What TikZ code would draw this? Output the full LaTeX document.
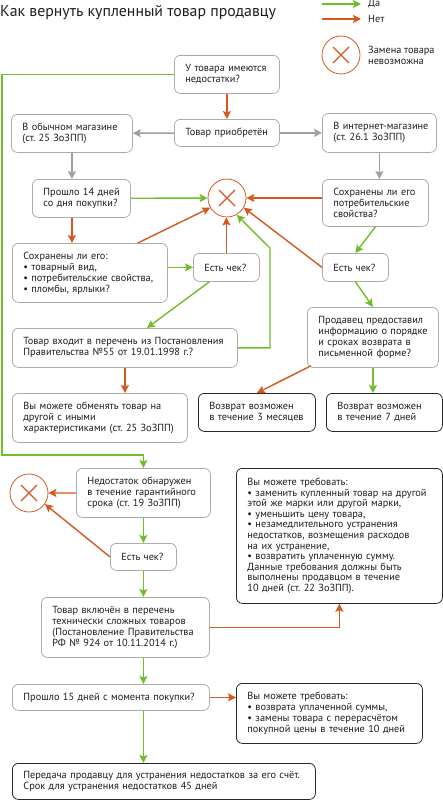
\documentclass[tikz,border=0pt]{standalone}
\usepackage{fontspec}
\setmainfont{PT Sans}
\frenchspacing
\usetikzlibrary{arrows.meta, positioning, calc}
\definecolor{yesgreen}{RGB}{112,190,40}
\definecolor{nored}{RGB}{214,88,30}
\definecolor{flowgray}{RGB}{160,160,160}
\definecolor{boxgray}{RGB}{172,172,172}
\definecolor{darkline}{RGB}{40,40,40}
\definecolor{inkcol}{RGB}{30,30,30}
\tikzstyle{box} = [rectangle, rounded corners=6pt, draw=boxgray, line width=0.8pt, fill=white, text=inkcol, inner xsep=4pt, inner ysep=0pt, align=left, anchor=north west, font=\fontsize{10.3}{11}\selectfont, execute at begin node={\leftskip=7pt\rightskip=-40pt plus 1fil}]
\tikzstyle{result} = [box, draw=darkline]
\tikzstyle{nogo} = [circle, draw=nored, line width=0.8pt, minimum size=38pt, inner sep=0pt, path picture={\draw[nored, line width=1.3pt] ([shift={(-8pt,-8pt)}]path picture bounding box.center) -- ([shift={(8pt,8pt)}]path picture bounding box.center) ([shift={(-8pt,8pt)}]path picture bounding box.center) -- ([shift={(8pt,-8pt)}]path picture bounding box.center);}]
\tikzstyle{yesarrow} = [line width=1.4pt, draw=yesgreen, -{Stealth[length=8pt, width=8pt, inset=1.5pt]}]
\tikzstyle{noarrow} = [yesarrow, draw=nored]
\tikzstyle{grayarrow} = [yesarrow, draw=flowgray]
\tikzstyle{legend} = [anchor=west, inner sep=0pt, align=left, text=inkcol, font=\fontsize{10.3}{11}\selectfont]

\begin{document}
\begin{tikzpicture}[x=1pt, y=-1pt]
\useasboundingbox (0,0) rectangle (443,800);

% Title and legend
\node (title) [anchor=west, inner sep=0pt, text=inkcol, font=\fontsize{15.8}{17}\selectfont] at (0,13) {Как вернуть купленный товар продавцу};
\node (yeslbl) [legend] at (368,4) {Да};
\node (nolbl) [legend] at (368,19) {Нет};
\coordinate (yesfrom) at (322,4);
\coordinate (nofrom) at (322,19);
\draw[yesarrow, shorten >=7pt] (yesfrom) -- (yeslbl.west);
\draw[noarrow, shorten >=7pt] (nofrom) -- (nolbl.west);
\node (legstop) [nogo] at (341,55) {};
\node (leglbl) [legend] at (368,55.5) {Замена товара\\невозможна};

% Upper part: return without defects
\node (q0) [box, text width=97pt, minimum height=38pt] at (174,55) {У товара имеются\\недостатки?};
\node (buy) [box, text width=97pt, minimum height=27pt] at (174,119) {Товар приобретён};
\node (shop) [box, text width=113pt, minimum height=38pt] at (11,114) {В обычном магазине\\(ст. 25 ЗоЗПП)};
\node (web) [box, text width=106pt, minimum height=39pt] at (322,113) {В интернет-магазине\\(ст. 26.1 ЗоЗПП)};
\node (d14) [box, text width=90pt, minimum height=38pt] at (32,179) {Прошло 14 дней\\со дня покупки?};
\node (propsR) [box, text width=98pt, minimum height=47pt] at (322,179) {Сохранены ли его\\потребительские\\свойства?};
\node (stop) [nogo] at (227,198) {};
\node (keptL) [box, text width=147pt, minimum height=59pt] at (12,243) {Сохранены ли его:\\• товарный вид,\\• потребительские свойства,\\• пломбы, ярлыки?};
\node (chkM) [box, text width=58pt, minimum height=28pt] at (193,253) {Есть чек?};
\node (chkR) [box, text width=58pt, minimum height=28pt] at (322,253) {Есть чек?};
\node (seller) [box, text width=123pt, minimum height=60pt] at (307,307) {Продавец предоставил\\информацию о порядке\\и сроках возврата в\\письменной форме?};
\node (list55) [box, text width=217pt, minimum height=39pt] at (12,328) {Товар входит в перечень из Постановления\\Правительства №55 от 19.01.1998 г.?};
\node (swap) [box, text width=167pt, minimum height=49pt] at (12,393) {Вы можете обменять товар на\\другой с иными\\характеристиками (ст. 25 ЗоЗПП)};
\node (m3) [result, text width=109pt, minimum height=38pt] at (198,393) {Возврат возможен\\в течение 3 месяцев};
\node (d7) [result, text width=108pt, minimum height=38pt] at (326,393) {Возврат возможен\\в течение 7 дней};

% Lower part: defects found
\node (warranty) [box, text width=126pt, minimum height=49pt] at (76,468) {Недостаток обнаружен\\в течение гарантийного\\срока (ст. 19 ЗоЗПП)};
\node (stop2) [nogo] at (29,493) {};
\node (claims) [result, text width=198pt, minimum height=135pt, font=\fontsize{10.3}{10.6}\selectfont] at (236,468) {Вы можете требовать:\\• заменить купленный товар на другой\\этой же марки или другой марки,\\• уменьшить цену товара,\\• незамедлительного устранения\\недостатков, возмещения расходов\\на их устранение,\\• возвратить уплаченную сумму.\\Данные требования должны быть\\выполнены продавцом в течение\\10 дней (ст. 22 ЗоЗПП).};
\node (chkB) [box, text width=58pt, minimum height=27pt] at (110,543) {Есть чек?};
\node (tech) [box, text width=160pt, minimum height=60pt] at (41,597) {Товар включён в перечень\\технически сложных товаров\\(Постановление Правительства\\РФ № 924 от 10.11.2014 г.)};
\node (d15) [box, text width=189pt, minimum height=26pt] at (12,684) {Прошло 15 дней с момента покупки?};
\node (claims2) [result, text width=178pt, minimum height=60pt] at (236,683) {Вы можете требовать:\\• возврата уплаченной суммы,\\• замены товара с перерасчётом\\покупной цены в течение 10 дней};
\node (transfer) [result, text width=295pt, minimum height=36pt] at (12,763) {Передача продавцу для устранения недостатков за его счёт.\\Срок для устранения недостатков 45 дней};

% Arrows, upper part
\draw[noarrow] (q0) -- (buy);
\draw[grayarrow] (buy) -- (shop);
\draw[grayarrow] (buy) -- (web);
\draw[grayarrow] (shop.south) -- (shop.south |- d14.north);
\draw[grayarrow] (web.south) -- (web.south |- propsR.north);
\draw[yesarrow] (d14) -- (stop);
\draw[noarrow] (stop.east -| propsR.west) -- (stop.east);
\draw[noarrow] (d14.south -| shop.south) -- (shop.south |- keptL.north);
\draw[noarrow] ($(keptL.north east)+(-30,0)$) -- (stop.210);
\draw[yesarrow] (keptL.east |- chkM.west) -- (chkM.west);
\draw[noarrow] (chkM.north) -- (chkM.north |- stop.south);
\draw[yesarrow] ($(chkM.south)+(-17,0)$) -- ($(list55.north)+(22,0)$);
\coordinate (rise) at (270,248);
\draw[yesarrow] (list55.east) -| (rise) -- (stop.-60);
\draw[noarrow] (list55.south) -- (list55.south |- swap.north);
\draw[yesarrow] (propsR.south) -- (chkR.north);
\draw[noarrow] (chkR.west) -- (stop.-30);
\draw[yesarrow] (chkR.south) -- (seller.north);
\draw[noarrow] ($(seller.south west)+(4,-2)$) -- (m3.north);
\draw[yesarrow] (seller.south) -- (seller.south |- d7.north);

% Arrows, lower part
\coordinate (rail) at (2,455);
\draw[yesarrow] (q0.west) -| (rail) -| (warranty.north);
\draw[noarrow] (warranty) -- (stop2);
\draw[yesarrow] (warranty) -- (chkB);
\draw[noarrow] (chkB.west) -- (stop2.-35);
\draw[yesarrow] (chkB.south) -- (chkB.south |- tech.north);
\draw[noarrow] (tech.east) -| (claims.south);
\draw[yesarrow] (chkB.south |- tech.south) -- (chkB.south |- d15.north);
\draw[noarrow] (d15.east) -- (d15.east -| claims2.west);
\draw[yesarrow] (chkB.south |- d15.south) -- (chkB.south |- transfer.north);

\end{tikzpicture}
\end{document}
